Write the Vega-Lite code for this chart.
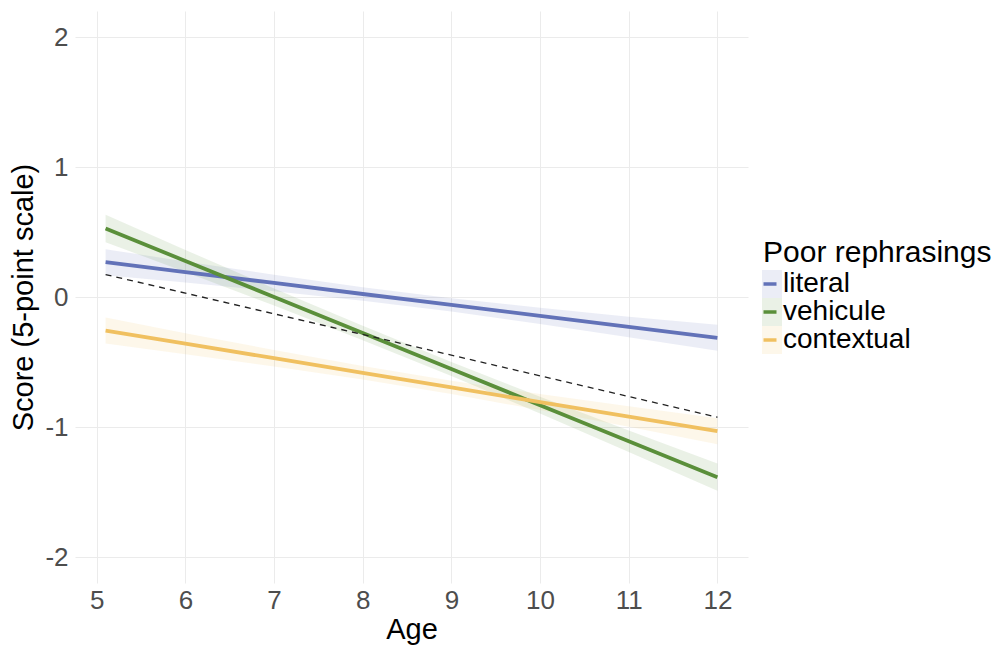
{
  "$schema": "https://vega.github.io/schema/vega-lite/v6.json",
  "width": 673,
  "height": 572,
  "autosize": {"type": "none"},
  "padding": {"left": 75, "top": 11, "right": 251, "bottom": 65},
  "background": "white",
  "config": {
    "font": "Liberation Sans",
    "view": {"stroke": null},
    "axis": {
      "grid": true, "gridColor": "#ebebeb", "gridWidth": 1,
      "domain": false, "ticks": false,
      "labelFont": "Liberation Sans", "labelFontSize": 26, "labelColor": "#4d4d4d",
      "titleFont": "Liberation Sans", "titleFontSize": 29, "titleColor": "#000000", "titleFontWeight": "normal"
    }
  },
  "datasets": {
    "fits": [
      {"group": "literal", "Age": 5.1, "est": 0.268, "lo": 0.168, "hi": 0.368},
      {"group": "literal", "Age": 6, "est": 0.192, "lo": 0.111, "hi": 0.273},
      {"group": "literal", "Age": 7, "est": 0.108, "lo": 0.045, "hi": 0.171},
      {"group": "literal", "Age": 8, "est": 0.023, "lo": -0.029, "hi": 0.075},
      {"group": "literal", "Age": 9, "est": -0.061, "lo": -0.112, "hi": -0.01},
      {"group": "literal", "Age": 10, "est": -0.145, "lo": -0.207, "hi": -0.083},
      {"group": "literal", "Age": 11, "est": -0.23, "lo": -0.309, "hi": -0.151},
      {"group": "literal", "Age": 12, "est": -0.314, "lo": -0.414, "hi": -0.214},
      {"group": "vehicule", "Age": 5.1, "est": 0.527, "lo": 0.422, "hi": 0.632},
      {"group": "vehicule", "Age": 6, "est": 0.277, "lo": 0.192, "hi": 0.362},
      {"group": "vehicule", "Age": 7, "est": 0.0, "lo": -0.066, "hi": 0.066},
      {"group": "vehicule", "Age": 8, "est": -0.277, "lo": -0.332, "hi": -0.222},
      {"group": "vehicule", "Age": 9, "est": -0.554, "lo": -0.608, "hi": -0.5},
      {"group": "vehicule", "Age": 10, "est": -0.832, "lo": -0.897, "hi": -0.767},
      {"group": "vehicule", "Age": 11, "est": -1.109, "lo": -1.192, "hi": -1.026},
      {"group": "vehicule", "Age": 12, "est": -1.386, "lo": -1.491, "hi": -1.281},
      {"group": "contextual", "Age": 5.1, "est": -0.258, "lo": -0.358, "hi": -0.158},
      {"group": "contextual", "Age": 6, "est": -0.359, "lo": -0.44, "hi": -0.278},
      {"group": "contextual", "Age": 7, "est": -0.471, "lo": -0.534, "hi": -0.408},
      {"group": "contextual", "Age": 8, "est": -0.583, "lo": -0.635, "hi": -0.531},
      {"group": "contextual", "Age": 9, "est": -0.695, "lo": -0.746, "hi": -0.644},
      {"group": "contextual", "Age": 10, "est": -0.808, "lo": -0.87, "hi": -0.746},
      {"group": "contextual", "Age": 11, "est": -0.92, "lo": -0.999, "hi": -0.841},
      {"group": "contextual", "Age": 12, "est": -1.032, "lo": -1.132, "hi": -0.932}
    ],
    "overall": [
      {"Age": 5.1, "est": 0.173},
      {"Age": 12, "est": -0.925}
    ]
  },
  "layer": [
    {
      "data": {"name": "fits"},
      "mark": {"type": "area", "opacity": 0.13},
      "encoding": {
        "x": {"field": "Age", "type": "quantitative", "scale": {"domain": [4.755, 12.345], "nice": false, "zero": false},
              "axis": {"values": [5, 6, 7, 8, 9, 10, 11, 12], "format": "d", "title": "Age", "labelPadding": 4, "titlePadding": 2}},
        "y": {"field": "lo", "type": "quantitative", "scale": {"domain": [-2.2, 2.2], "nice": false, "zero": false},
              "axis": {"values": [-2, -1, 0, 1, 2], "labelExpr": "datum.value < 0 ? '-' + abs(datum.value) : '' + datum.value",
                       "title": "Score (5-point scale)", "labelPadding": 7, "titlePadding": 6}},
        "y2": {"field": "hi"},
        "fill": {"field": "group", "type": "nominal",
                 "scale": {"domain": ["contextual", "vehicule", "literal"], "range": ["#f0c060", "#5a8f3a", "#6272b8"]},
                 "legend": {"orient": "none", "legendX": 683, "legendY": 259, "title": null,
                            "values": ["literal", "vehicule", "contextual"],
                            "labelExpr": "''", "labelFontSize": 10,
                            "symbolType": "M-0.714,-1H0.714V1H-0.714Z", "symbolSize": 784, "symbolOpacity": 0.13,
                            "symbolStrokeWidth": 0, "rowPadding": 0}}
      }
    },
    {
      "data": {"name": "fits"},
      "mark": {"type": "line", "strokeWidth": 3.8},
      "encoding": {
        "x": {"field": "Age", "type": "quantitative"},
        "y": {"field": "est", "type": "quantitative"},
        "color": {"field": "group", "type": "nominal",
                  "scale": {"domain": ["literal", "vehicule", "contextual"], "range": ["#6272b8", "#5a8f3a", "#f0c060"]},
                  "legend": {"orient": "none", "legendX": 688, "legendY": 227, "title": "Poor rephrasings",
                             "titleColor": "#000000", "titleFontSize": 30, "titleFontWeight": "normal", "titleFont": "Liberation Sans",
                             "titleLimit": 400, "labelLimit": 300,
                             "labelColor": "#000000", "labelFontSize": 28, "labelFont": "Liberation Sans", "labelOffset": -1,
                             "symbolType": "stroke", "symbolSize": 169, "symbolStrokeWidth": 3.5, "symbolOffset": -7,
                             "rowPadding": 0, "titlePadding": 2}}
      }
    },
    {
      "data": {"name": "overall"},
      "mark": {"type": "line", "color": "#222222", "strokeWidth": 1.3, "strokeDash": [6, 5]},
      "encoding": {
        "x": {"field": "Age", "type": "quantitative"},
        "y": {"field": "est", "type": "quantitative"}
      }
    }
  ]
}
